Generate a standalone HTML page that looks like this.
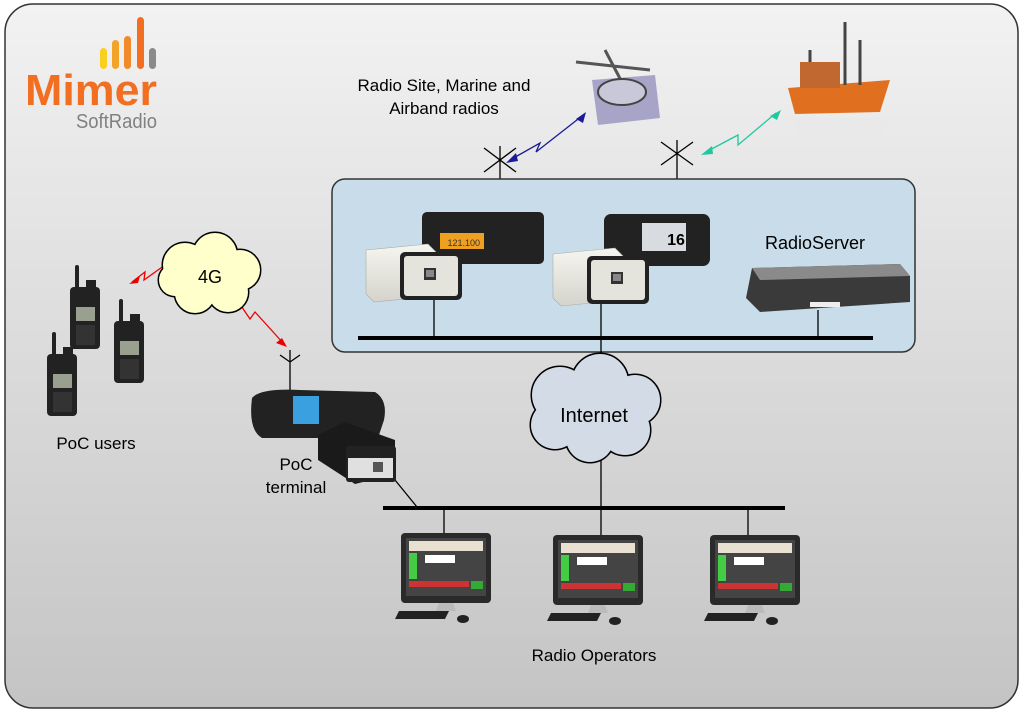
<!DOCTYPE html>
<html><head><meta charset="utf-8"><style>
html,body{margin:0;padding:0;background:#fff;width:1024px;height:714px;overflow:hidden}
svg{display:block}
text{font-family:"Liberation Sans",sans-serif;fill:#000}
</style></head><body>
<svg width="1024" height="714" viewBox="0 0 1024 714" xmlns="http://www.w3.org/2000/svg">
<defs>
<linearGradient id="bg" x1="0" y1="0" x2="0" y2="1"><stop offset="0" stop-color="#f2f2f2"/><stop offset="1" stop-color="#c4c4c4"/></linearGradient>
<linearGradient id="alu" x1="0" y1="0" x2="0" y2="1"><stop offset="0" stop-color="#f6f6f0"/><stop offset="1" stop-color="#d4d4cc"/></linearGradient>
<g id="mon">
<rect x="0" y="0" width="90" height="70" rx="4" fill="#2a2a2a"/>
<rect x="5" y="5" width="80" height="58" fill="#444"/>
<rect x="8" y="8" width="74" height="10" fill="#e8e0d0"/>
<rect x="8" y="20" width="8" height="26" fill="#4c4"/>
<rect x="24" y="22" width="30" height="8" fill="#fff"/>
<rect x="8" y="48" width="60" height="6" fill="#c33"/>
<rect x="70" y="48" width="12" height="8" fill="#3a3"/>
<path d="M38 70 L52 70 L55 78 L35 78 Z" fill="#bbb"/>
<path d="M-2 78 L48 78 L44 86 L-6 86 Z" fill="#222"/>
<ellipse cx="62" cy="86" rx="6" ry="4" fill="#222"/>
</g>
<g id="box">
<path d="M0 6 L62 0 L70 8 L70 52 L8 58 L0 50 Z" fill="url(#alu)" stroke="#aaa" stroke-width="0.6"/>
<rect x="34" y="8" width="62" height="48" rx="5" fill="#222"/>
<rect x="38" y="12" width="54" height="40" rx="3" fill="#e4e4dc"/>
<rect x="58" y="24" width="12" height="12" fill="#333"/><rect x="60" y="26" width="8" height="7" fill="#888"/>
</g>
<g id="radio">
<rect x="0" y="0" width="30" height="62" rx="4" fill="#222"/>
<rect x="5" y="-22" width="4" height="24" rx="2" fill="#222"/>
<rect x="16" y="-7" width="10" height="8" fill="#222"/>
<rect x="6" y="20" width="19" height="14" fill="#9aa090"/>
<rect x="6" y="38" width="19" height="20" fill="#333"/>
</g>
</defs>
<rect x="5" y="4" width="1013" height="704" rx="28" fill="url(#bg)" stroke="#333" stroke-width="1.5"/>

<!-- logo -->
<rect x="100" y="48" width="7" height="21" rx="3.5" fill="#f8d020"/>
<rect x="112" y="40" width="7" height="29" rx="3.5" fill="#f2a42a"/>
<rect x="124" y="36" width="7" height="33" rx="3.5" fill="#f08a2a"/>
<rect x="137" y="17" width="7" height="52" rx="3.5" fill="#f26f22"/>
<rect x="149" y="48" width="7" height="21" rx="3.5" fill="#8a8a8a"/>
<text x="25" y="105" font-size="44" font-weight="bold" style="fill:#f26f22" textLength="132" lengthAdjust="spacingAndGlyphs">Mimer</text>
<text x="76" y="128" font-size="20" style="fill:#808080" textLength="81" lengthAdjust="spacingAndGlyphs">SoftRadio</text>

<text x="444" y="91" font-size="17" text-anchor="middle">Radio Site, Marine and</text>
<text x="444" y="114" font-size="17" text-anchor="middle">Airband radios</text>

<!-- helicopter / ship -->
<path d="M592 80 L655 75 L660 118 L598 125 Z" fill="#a8a4c8"/>
<path d="M576 62 L650 70 M605 50 L625 88" stroke="#555" stroke-width="3"/>
<ellipse cx="622" cy="92" rx="24" ry="13" fill="#c8c8d8" stroke="#444" stroke-width="2"/>
<path d="M788 88 L890 80 L880 112 L795 114 Z" fill="#e07020"/>
<rect x="800" y="62" width="40" height="26" fill="#c06830"/>
<path d="M845 22 L845 85 M860 40 L860 85 M810 50 L810 62" stroke="#444" stroke-width="3"/>
<path d="M790 118 L895 118 L880 135 L800 135 Z" fill="#e8e8e8" opacity="0.7"/>

<!-- zigzag links -->
<path d="M510 160 L540 143 L536 152 L582 116" stroke="#1b1b9a" stroke-width="1.3" fill="none"/>
<path d="M506 163 L516 153 L518 161 Z M586 112 L576 119 L583 123 Z" fill="#1b1b9a"/>
<path d="M706 152 L738 135 L738 145 L776 113" stroke="#20c8a0" stroke-width="1.3" fill="none"/>
<path d="M701 155 L712 146 L713 154 Z M781 110 L770 116 L777 120 Z" fill="#20c8a0"/>
<path d="M132 282 L145 272 L144 280 L172 260 M235 297 L250 319 L255 312 L284 344" stroke="#e00" stroke-width="1.3" fill="none"/>
<path d="M129 284 L140 276 L138 283 Z M176 258 L165 262 L170 268 Z M232 294 L240 302 L234 305 Z M287 347 L276 343 L282 338 Z" fill="#e00"/>

<!-- antennas -->
<g stroke="#000" stroke-width="1.3" fill="none">
<path d="M484 148 L516 172 M484 172 L516 148 M500 146 L500 218"/>
<path d="M661 142 L693 165 M661 165 L693 142 M677 140 L677 218"/>
<path d="M280 355 L290 362 L300 355 M290 350 L290 392"/>
</g>

<!-- blue box -->
<rect x="332" y="179" width="583" height="173" rx="13" fill="#c8dde9" stroke="#333" stroke-width="1.5"/>
<g stroke="#000" stroke-width="1.3">
<path d="M434 295 L434 338 M601 300 L601 338 M818 310 L818 338 M601 338 L601 375 M601 455 L601 508 M444 508 L444 535 M601 508 L601 537 M748 508 L748 537 M395 480 L417 507"/>
</g>
<rect x="358" y="336" width="515" height="4" fill="#000"/>
<rect x="383" y="506" width="402" height="4" fill="#000"/>

<!-- radios in box -->
<rect x="422" y="212" width="122" height="52" rx="5" fill="#222"/>
<rect x="440" y="233" width="44" height="16" fill="#f0a020"/>
<text x="480" y="246" font-size="9" text-anchor="end" style="fill:#333">121.100</text>
<rect x="604" y="214" width="106" height="52" rx="7" fill="#222"/>
<rect x="642" y="223" width="44" height="28" fill="#d8dce0"/>
<text x="676" y="245" font-size="16" font-weight="bold" text-anchor="middle">16</text>
<use href="#box" x="366" y="244"/>
<use href="#box" x="553" y="248"/>
<text x="815" y="249" font-size="18" text-anchor="middle">RadioServer</text>
<path d="M752 268 L900 264 L910 276 L910 302 L760 312 L746 298 Z" fill="#3a3a3a"/>
<path d="M752 268 L900 264 L910 276 L760 280 Z" fill="#8a8a8a"/>
<rect x="810" y="302" width="30" height="5" fill="#eee"/>

<!-- 4G cloud -->
<g fill="#ffffcc" stroke="#000" stroke-width="3">
<circle cx="185" cy="265" r="22"/><circle cx="215" cy="255" r="22"/><circle cx="240" cy="270" r="20"/><circle cx="228" cy="292" r="20"/><circle cx="195" cy="293" r="20"/><circle cx="175" cy="280" r="16"/>
</g>
<g fill="#ffffcc">
<circle cx="185" cy="265" r="22"/><circle cx="215" cy="255" r="22"/><circle cx="240" cy="270" r="20"/><circle cx="228" cy="292" r="20"/><circle cx="195" cy="293" r="20"/><circle cx="175" cy="280" r="16"/><rect x="180" y="260" width="55" height="35"/>
</g>
<text x="210" y="283" font-size="18" text-anchor="middle">4G</text>

<!-- Internet cloud -->
<g fill="#d3dbe6" stroke="#000" stroke-width="3">
<circle cx="560" cy="395" r="28"/><circle cx="600" cy="382" r="28"/><circle cx="635" cy="400" r="25"/><circle cx="625" cy="430" r="25"/><circle cx="590" cy="438" r="24"/><circle cx="555" cy="425" r="24"/>
</g>
<g fill="#d3dbe6">
<circle cx="560" cy="395" r="28"/><circle cx="600" cy="382" r="28"/><circle cx="635" cy="400" r="25"/><circle cx="625" cy="430" r="25"/><circle cx="590" cy="438" r="24"/><circle cx="555" cy="425" r="24"/><rect x="560" y="390" width="70" height="40"/>
</g>
<text x="594" y="422" font-size="20" text-anchor="middle">Internet</text>

<!-- PoC handhelds -->
<use href="#radio" x="70" y="287"/>
<use href="#radio" x="114" y="321"/>
<use href="#radio" x="47" y="354"/>
<text x="96" y="449" font-size="17" text-anchor="middle">PoC users</text>

<!-- PoC terminal -->
<path d="M252 398 Q260 388 300 390 L375 392 Q388 400 384 420 L378 438 L262 438 Q248 430 252 398 Z" fill="#222"/>
<rect x="293" y="396" width="26" height="28" fill="#3aa0e0"/>
<path d="M318 435 L345 422 L395 440 L395 474 L355 484 L318 460 Z" fill="#1a1a1a"/>
<rect x="346" y="446" width="50" height="36" rx="3" fill="#222"/>
<rect x="348" y="458" width="45" height="20" fill="#e0e0e0"/>
<rect x="373" y="462" width="10" height="10" fill="#555"/>
<text x="296" y="470" font-size="17" text-anchor="middle">PoC</text>
<text x="296" y="493" font-size="17" text-anchor="middle">terminal</text>

<!-- operators -->
<use href="#mon" x="401" y="533"/>
<use href="#mon" x="553" y="535"/>
<use href="#mon" x="710" y="535"/>
<text x="594" y="661" font-size="17" text-anchor="middle">Radio Operators</text>
</svg>
</body></html>
